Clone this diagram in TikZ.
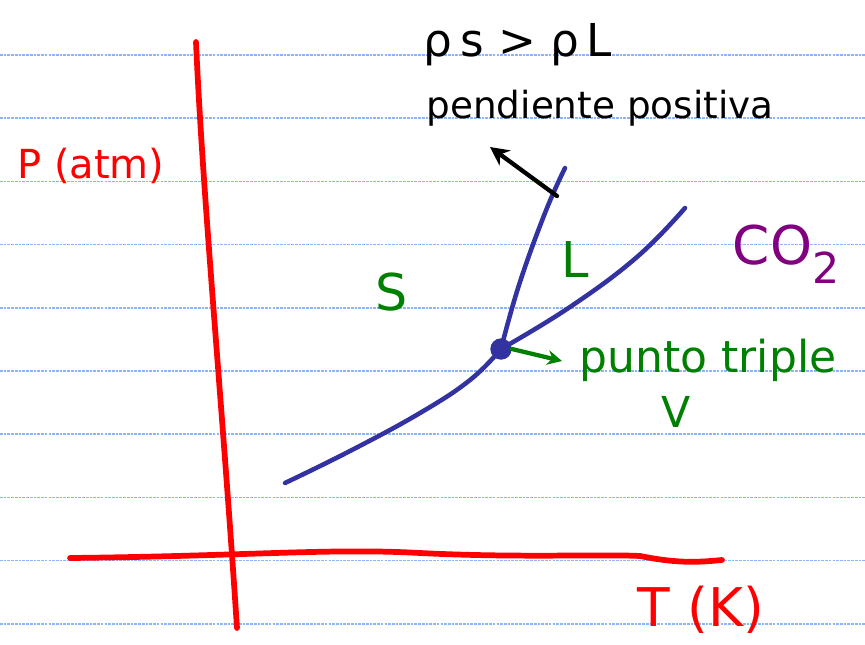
\documentclass[tikz,border=0pt]{standalone}
\usepackage{fontspec}
\setmainfont{DejaVu Sans}
\usetikzlibrary{arrows.meta}
\definecolor{rulecol}{RGB}{140,180,250}
\definecolor{axisred}{RGB}{255,0,0}
\definecolor{curveblue}{RGB}{50,50,160}
\definecolor{labgreen}{RGB}{0,128,0}
\definecolor{labpurple}{RGB}{128,0,128}
\tikzset{
  ruleline/.style={draw=rulecol, line width=1.1pt, dash pattern=on 2pt off 0.8pt},
  axisline/.style={draw=axisred, line width=4.3pt, line cap=round, line join=round},
  curveline/.style={draw=curveblue, line width=3.4pt, line cap=round, line join=round},
  redlabel/.style={text=axisred, inner sep=0pt},
  greenlabel/.style={text=labgreen, inner sep=0pt},
  blacklabel/.style={text=black, inner sep=0pt},
  greenarrow/.style={draw=labgreen, line width=3.2pt, line cap=round, -{Stealth[length=11pt,width=11pt]}},
  blackarrow/.style={draw=black, line width=3.2pt, line cap=round, -{Stealth[length=14pt,width=14pt]}},
  tpdot/.style={circle, fill=curveblue, minimum size=16pt, inner sep=0pt}
}
\begin{document}
\begin{tikzpicture}[x=0.75pt, y=-0.75pt]
\useasboundingbox (0,0) rectangle (865,644);
\fill[white] (0,0) rectangle (865,644);
% ruled lines
\foreach \yy in {55,118.2,181.4,244.6,307.8,371,434.2,497.4,560.6,623.8}{
  \draw[ruleline] (0,\yy) -- (865,\yy);
}
% axes
\draw[axisline] (196,42) .. controls (203,200) and (222,400) .. (237,628);
\draw[axisline] (70,558) .. controls (250,556) and (330,548) .. (420,553)
   .. controls (520,558) and (600,554) .. (640,556)
   .. controls (680,564) and (700,562) .. (722,560);
% axis labels
\node[redlabel, font=\fontsize{30}{32}\selectfont] (plab) at (91,166) {P (atm)};
\node[redlabel, font=\fontsize{40}{42}\selectfont] (tlab) at (701,610) {T (K)};
% triple point
\node[tpdot] (tp) at (501,349) {};
% curves
\draw[curveline] plot[smooth, tension=0.7] coordinates {(285,483) (350,451) (420,413) (470,380) (501,349)};
\draw[curveline] plot[smooth, tension=0.7] coordinates {(501,349) (570,307) (637,257) (685,208)};
\draw[curveline] plot[smooth, tension=0.7] coordinates {(501,349) (519,285) (545,213) (565,168)};
% region labels
\node[greenlabel, font=\fontsize{38}{40}\selectfont] (slab) at (392,292) {S};
\node[greenlabel, font=\fontsize{37}{39}\selectfont] (llab) at (575,260) {L};
\node[greenlabel, font=\fontsize{32}{34}\selectfont] (vlab) at (676,412) {V};
\node[text=labpurple, inner sep=0pt, font=\fontsize{40}{42}\selectfont] (co2) at (786,254) {CO\raisebox{-0.35em}{\fontsize{32}{34}\selectfont 2}};
% triple point label
\node[greenlabel, font=\fontsize{33}{35}\selectfont] (tplab) at (708,360) {punto triple};
\coordinate (garrowend) at (562,361);
\draw[greenarrow] (tp.east) -- (garrowend);
% top text
\node[blacklabel, font=\fontsize{34}{36}\selectfont] (rho) at (518,45) {ρ\,s > ρ\,L};
\node[blacklabel, font=\fontsize{28}{30}\selectfont] (pend) at (600,108) {pendiente positiva};
\coordinate (barrowstart) at (557,196);
\coordinate (barrowend) at (490,147);
\draw[blackarrow] (barrowstart) -- (barrowend);
\end{tikzpicture}
\end{document}
